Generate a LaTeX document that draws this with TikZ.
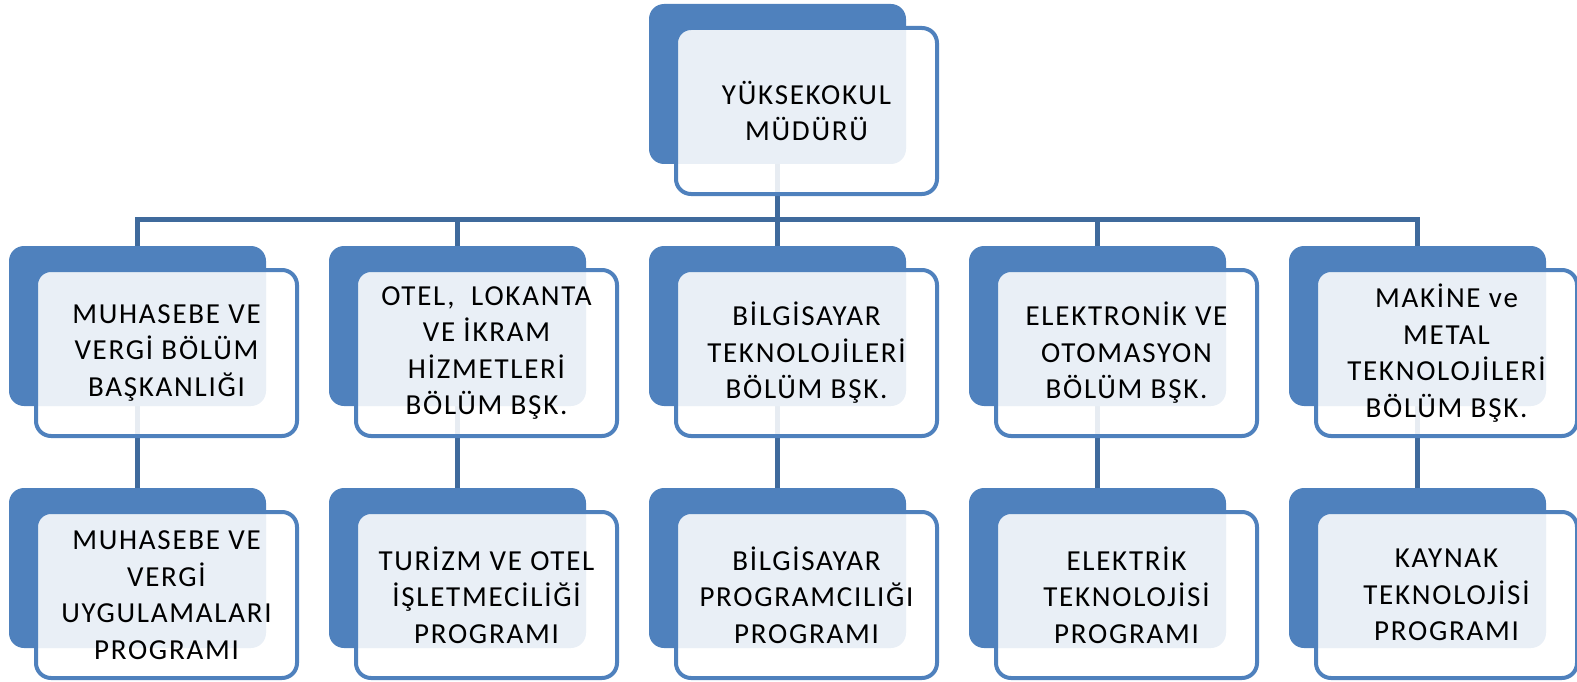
\documentclass[tikz,border=0pt]{standalone}
\usepackage{fontspec}
\setmainfont{Carlito}[LetterSpace=6]
\usetikzlibrary{positioning,backgrounds}
\definecolor{boxblue}{HTML}{4F81BD}
\definecolor{linkblue}{HTML}{3F6A9C}

\begin{document}
\begin{tikzpicture}[x=1pt, y=-1pt,
	backbox/.style={fill=boxblue, rounded corners=15pt, minimum width=257pt, minimum height=160pt, anchor=north west, inner sep=0pt, outer sep=0pt},
	frontbox/.style={draw=boxblue, line width=4pt, fill=white, fill opacity=0.88, text opacity=1, rounded corners=15pt,
		minimum width=261pt, minimum height=166pt, anchor=north west, inner sep=0pt, outer sep=0pt,
		align=center, font=\fontsize{29}{36.5}\selectfont},
	link/.style={draw=linkblue, line width=5pt}]

\useasboundingbox (0,0) rectangle (1577,682);

% blue back plates
\node[backbox] (mudurB) at (649,4) {};
\node[backbox] (muhB) at (9,246) {};
\node[backbox, right=63pt of muhB] (otelB) {};
\node[backbox, right=63pt of otelB] (bilB) {};
\node[backbox, right=63pt of bilB] (elekB) {};
\node[backbox, right=63pt of elekB] (makB) {};
\node[backbox, below=82pt of muhB] (muhpB) {};
\node[backbox, below=82pt of otelB] (turB) {};
\node[backbox, below=82pt of bilB] (bilpB) {};
\node[backbox, below=82pt of elekB] (elekpB) {};
\node[backbox, below=82pt of makB] (kayB) {};

% front boxes with the texts
\node[frontbox] (mudur) at ([shift={(27,24)}]mudurB.north west) {YÜKSEKOKUL\\MÜDÜRÜ};
\node[frontbox] (muh) at ([shift={(27,24)}]muhB.north west) {MUHASEBE VE\\VERGİ BÖLÜM\\BAŞKANLIĞI};
\node[frontbox] (otel) at ([shift={(27,24)}]otelB.north west) {OTEL,\ \ LOKANTA\\VE İKRAM\\HİZMETLERİ\\BÖLÜM BŞK.};
\node[frontbox] (bil) at ([shift={(27,24)}]bilB.north west) {BİLGİSAYAR\\TEKNOLOJİLERİ\\BÖLÜM BŞK.};
\node[frontbox] (elek) at ([shift={(27,24)}]elekB.north west) {ELEKTRONİK VE\\OTOMASYON\\BÖLÜM BŞK.};
\node[frontbox] (mak) at ([shift={(27,24)}]makB.north west) {MAKİNE ve\\METAL\\TEKNOLOJİLERİ\\BÖLÜM BŞK.};
\node[frontbox] (muhp) at ([shift={(27,24)}]muhpB.north west) {MUHASEBE VE\\VERGİ\\UYGULAMALARI\\PROGRAMI};
\node[frontbox] (tur) at ([shift={(27,24)}]turB.north west) {TURİZM VE OTEL\\İŞLETMECİLİĞİ\\PROGRAMI};
\node[frontbox] (bilp) at ([shift={(27,24)}]bilpB.north west) {BİLGİSAYAR\\PROGRAMCILIĞI\\PROGRAMI};
\node[frontbox] (elekp) at ([shift={(27,24)}]elekpB.north west) {ELEKTRİK\\TEKNOLOJİSİ\\PROGRAMI};
\node[frontbox] (kay) at ([shift={(27,24)}]kayB.north west) {KAYNAK\\TEKNOLOJİSİ\\PROGRAMI};

% connectors behind the boxes
\coordinate (bus) at (0,219);
\begin{scope}[on background layer]
\draw[link] (mudurB.center) -- (mudurB.center |- bus);
\draw[link] (muhB.north) |- (makB.north |- bus) -- (makB.north);
\foreach \b in {otelB, bilB, elekB}
	\draw[link] (\b.north) -- (\b.north |- bus);
\foreach \a/\b in {muhB/muhpB, otelB/turB, bilB/bilpB, elekB/elekpB, makB/kayB}
	\draw[link] (\a.center) -- (\b.north);
\end{scope}
\end{tikzpicture}
\end{document}
